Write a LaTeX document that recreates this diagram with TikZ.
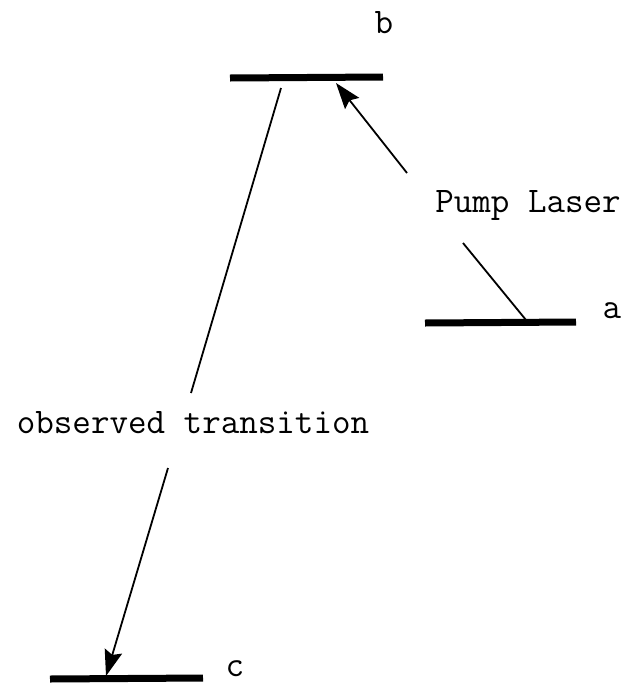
\documentclass[tikz,border=0pt]{standalone}
\usetikzlibrary{arrows.meta}
\begin{document}
\begin{tikzpicture}[x=1pt,y=-1pt,
  level/.style={line width=7pt},
  conn/.style={line width=1.8pt},
  lbl/.style={font=\ttfamily\fontsize{36}{38}\selectfont, inner sep=0pt, anchor=base},
  tip/.style={-{Stealth[length=26pt,width=18pt,inset=4pt]}}]
\useasboundingbox (0,0) rectangle (633,686);
% levels
\coordinate (bL) at (230,78); \coordinate (bR) at (383,77);
\coordinate (aL) at (425,323); \coordinate (aR) at (576,322);
\coordinate (cL) at (50,679); \coordinate (cR) at (203,678);
\draw[level] (bL) -- (bR);
\draw[level] (aL) -- (aR);
\draw[level] (cL) -- (cR);
% labels
\node[lbl] (lb) at (384,33) {b};
\node[lbl] (la) at (612,318) {a};
\node[lbl] (lc) at (235,676) {c};
\node[lbl] (pump) at (528,212) {Pump Laser};
\node[lbl] (obs) at (193,433) {observed transition};
% observed transition
\coordinate (o1) at (281,88); \coordinate (o2) at (191,393);
\coordinate (o3) at (168,468); \coordinate (o4) at (106,676);
\draw[conn] (o1) -- (o2);
\draw[conn,tip] (o3) -- (o4);
% pump
\coordinate (p1) at (407,173); \coordinate (p2) at (336,83);
\coordinate (p3) at (463,243); \coordinate (p4) at (526,320);
\draw[conn,tip] (p1) -- (p2);
\draw[conn] (p3) -- (p4);
\end{tikzpicture}
\end{document}
